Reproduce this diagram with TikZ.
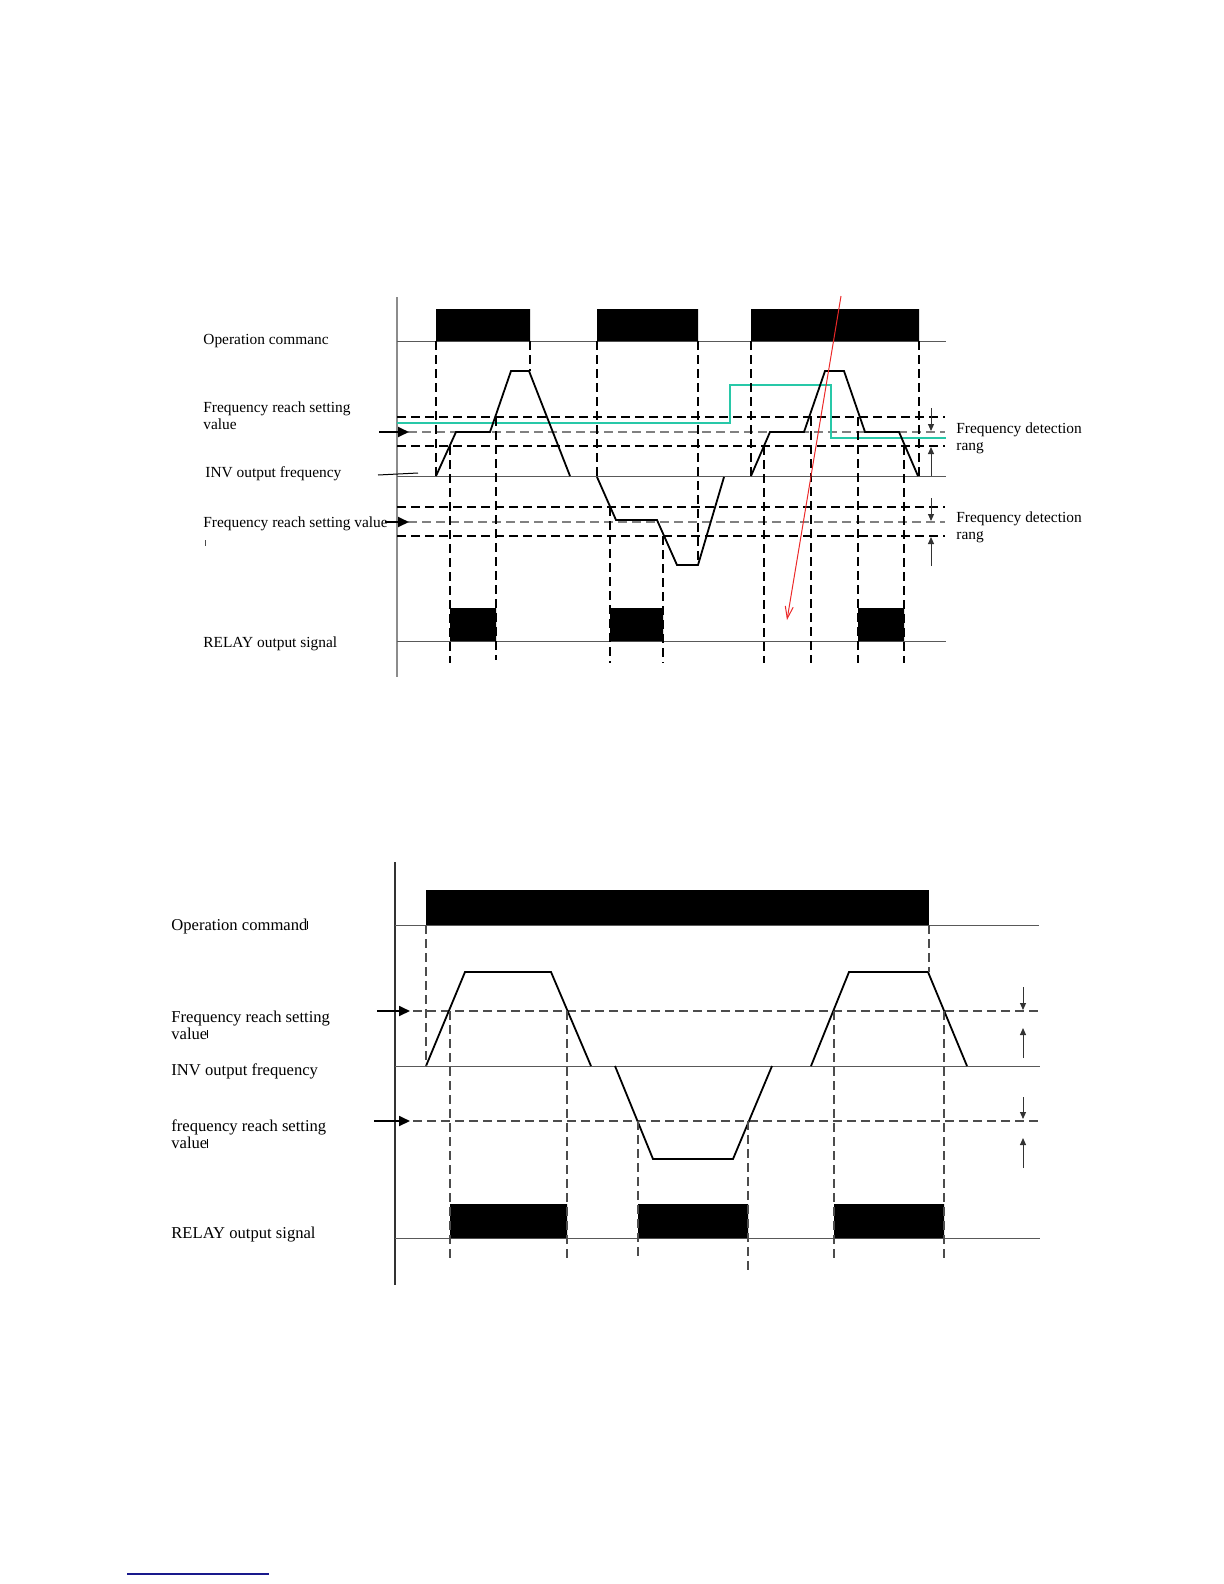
\documentclass[tikz,border=0pt]{standalone}
\usepackage{fontspec}
\setmainfont{Liberation Serif}
\usetikzlibrary{arrows.meta}
\definecolor{axiscol}{RGB}{140,140,140}
\definecolor{levelcol}{RGB}{40,200,168}
\definecolor{markcol}{RGB}{235,40,40}
\definecolor{linkcol}{RGB}{25,25,140}
\newcommand{\tickmark}{\rule[0.1ex]{0.3pt}{1.1ex}}

\begin{document}
\begin{tikzpicture}[x=0.5pt,y=-0.5pt,>=Stealth,
  baseline/.style={black!65,line width=0.5pt},
  wave/.style={black,line width=0.9pt,line join=miter},
  guide/.style={black,line width=0.6pt,dash pattern=on 4.5pt off 2.5pt},
  guidegray/.style={black!50,line width=0.6pt,dash pattern=on 4.5pt off 2.5pt},
  setarrow/.style={-{Triangle[length=5.5pt,width=5pt]},line width=0.9pt},
  rangearrow/.style={-{Triangle[length=3.5pt,width=3pt]},black!80,line width=0.5pt},
  lbl/.style={anchor=west,inner sep=0pt,align=left,font=\fontsize{7.7}{8.5}\selectfont},
  lblb/.style={lbl,font=\fontsize{8.3}{8.5}\selectfont}]
\useasboundingbox (0,0) rectangle (1224,1584);

% top: detection range with hysteresis band
\draw[axiscol,line width=1pt] (397,297) -- (397,677);
\foreach \y in {341,476,641} \draw[baseline] (397,\y) -- (946,\y);
\fill (436,309) rectangle (530,341) (597,309) rectangle (698,341) (751,309) rectangle (919,341);
\fill (450,608) rectangle (496,641) (610,608) rectangle (663,641) (858,608) rectangle (904,641);
\foreach \y in {417,446,507,536} \draw[guide] (397,\y) -- (945,\y);
\foreach \y in {432,522} \draw[guidegray] (408,\y) -- (945,\y);
\draw[levelcol,line width=1.2pt] (397,423) -- (730,423) -- (730,385) -- (831,385) -- (831,438) -- (946,438);
\draw[wave] (436,476) -- (456,432) -- (490,432) -- (511,371) -- (529,371) -- (570,476);
\draw[wave] (597,477) -- (616,520) -- (657,520) -- (677,565) -- (698,565) -- (724,477);
\draw[wave] (751,476) -- (770,432) -- (804,432) -- (825,371) -- (844,371) -- (865,432) -- (899,432) -- (918,476);
\draw[guide] (436,341) -- (436,476) (530,341) -- (530,371) (597,341) -- (597,476)
  (698,341) -- (698,565) (751,341) -- (751,476) (919,341) -- (919,476);
\draw[guide,line width=0.9pt] (450,446) -- (450,663) (858,417) -- (858,663);
\draw[guide] (496,417) -- (496,660) (610,507) -- (610,663) (663,536) -- (663,663)
  (764,446) -- (764,663) (811,417) -- (811,663) (904,446) -- (904,663);
\draw[rangearrow] (931,408) -- (931,431);
\draw[rangearrow] (931,476) -- (931,447);
\draw[rangearrow] (931,498) -- (931,521);
\draw[rangearrow] (931,566) -- (931,537);
\draw[markcol,line width=0.5pt,-{Straight Barb[length=6pt,width=4pt]}] (841,296) -- (787,620);

\node[lbl] (opA) at (203,341) {Operation commanc};
\node[lbl] (reachA) at (203,416) {Frequency reach setting\\value};
\node[lbl] (invA) at (205,474) {INV output frequency};
\node[lbl] (reachB) at (203,524) {Frequency reach setting value};
\node[lbl] (relayA) at (203,644) {RELAY output signal};
\node[lbl] (rangeA) at (956,438) {Frequency detection\\rang};
\node[lbl] (rangeB) at (956,527) {Frequency detection\\rang};
\draw[black!70,line width=0.4pt] (205,540) -- (205,546);
\coordinate (reachAtail) at (379,432); \coordinate (reachAtip) at (409,432);
\coordinate (reachBtail) at (385,522); \coordinate (reachBtip) at (409,522);
\draw[setarrow] (reachAtail) -- (reachAtip);
\draw[setarrow] (reachBtail) -- (reachBtip);
\draw[line width=0.5pt] (378,475) -- (418,473);

% bottom: single reach level
\draw[black!80,line width=0.7pt] (395,862) -- (395,1285);
\draw[baseline] (395,925) -- (1039,925);
\foreach \y in {1066,1238} \draw[baseline] (395,\y) -- (1040,\y);
\fill (426,890) rectangle (929,925);
\fill (450,1204) rectangle (567,1238) (638,1204) rectangle (748,1238) (834,1204) rectangle (944,1238);
\foreach \y in {1011,1121} \draw[guidegray,black!70] (413,\y) -- (1040,\y);
\draw[wave] (426,1066) -- (465,972) -- (551,972) -- (591,1066);
\draw[wave] (615,1066) -- (653,1159) -- (733,1159) -- (772,1066);
\draw[wave] (811,1066) -- (849,972) -- (928,972) -- (967,1066);
\draw[guidegray,black!70] (426,925) -- (426,1066) (929,925) -- (929,972)
  (450,1011) -- (450,1263) (567,1011) -- (567,1263) (638,1121) -- (638,1261)
  (748,1121) -- (748,1270) (834,1011) -- (834,1262) (944,1011) -- (944,1262);
\draw[rangearrow] (1023,987) -- (1023,1010);
\draw[rangearrow] (1023,1058) -- (1023,1028);
\draw[rangearrow] (1023,1097) -- (1023,1119);
\draw[rangearrow] (1023,1168) -- (1023,1138);

\node[lblb] (opB) at (171,926) {Operation command\tickmark};
\node[lblb] (reachC) at (171,1025) {Frequency reach setting\\value\tickmark};
\node[lblb] (invB) at (171,1071) {INV output frequency};
\node[lblb] (reachD) at (171,1134) {frequency reach setting\\value\tickmark};
\node[lblb] (relayB) at (171,1235) {RELAY output signal};
\coordinate (reachCtail) at (377,1011); \coordinate (reachCtip) at (410,1011);
\coordinate (reachDtail) at (374,1121); \coordinate (reachDtip) at (410,1121);
\draw[setarrow] (reachCtail) -- (reachCtip);
\draw[setarrow] (reachDtail) -- (reachDtip);

\draw[linkcol,line width=0.7pt] (127,1574) -- (269,1574);
\end{tikzpicture}
\end{document}
